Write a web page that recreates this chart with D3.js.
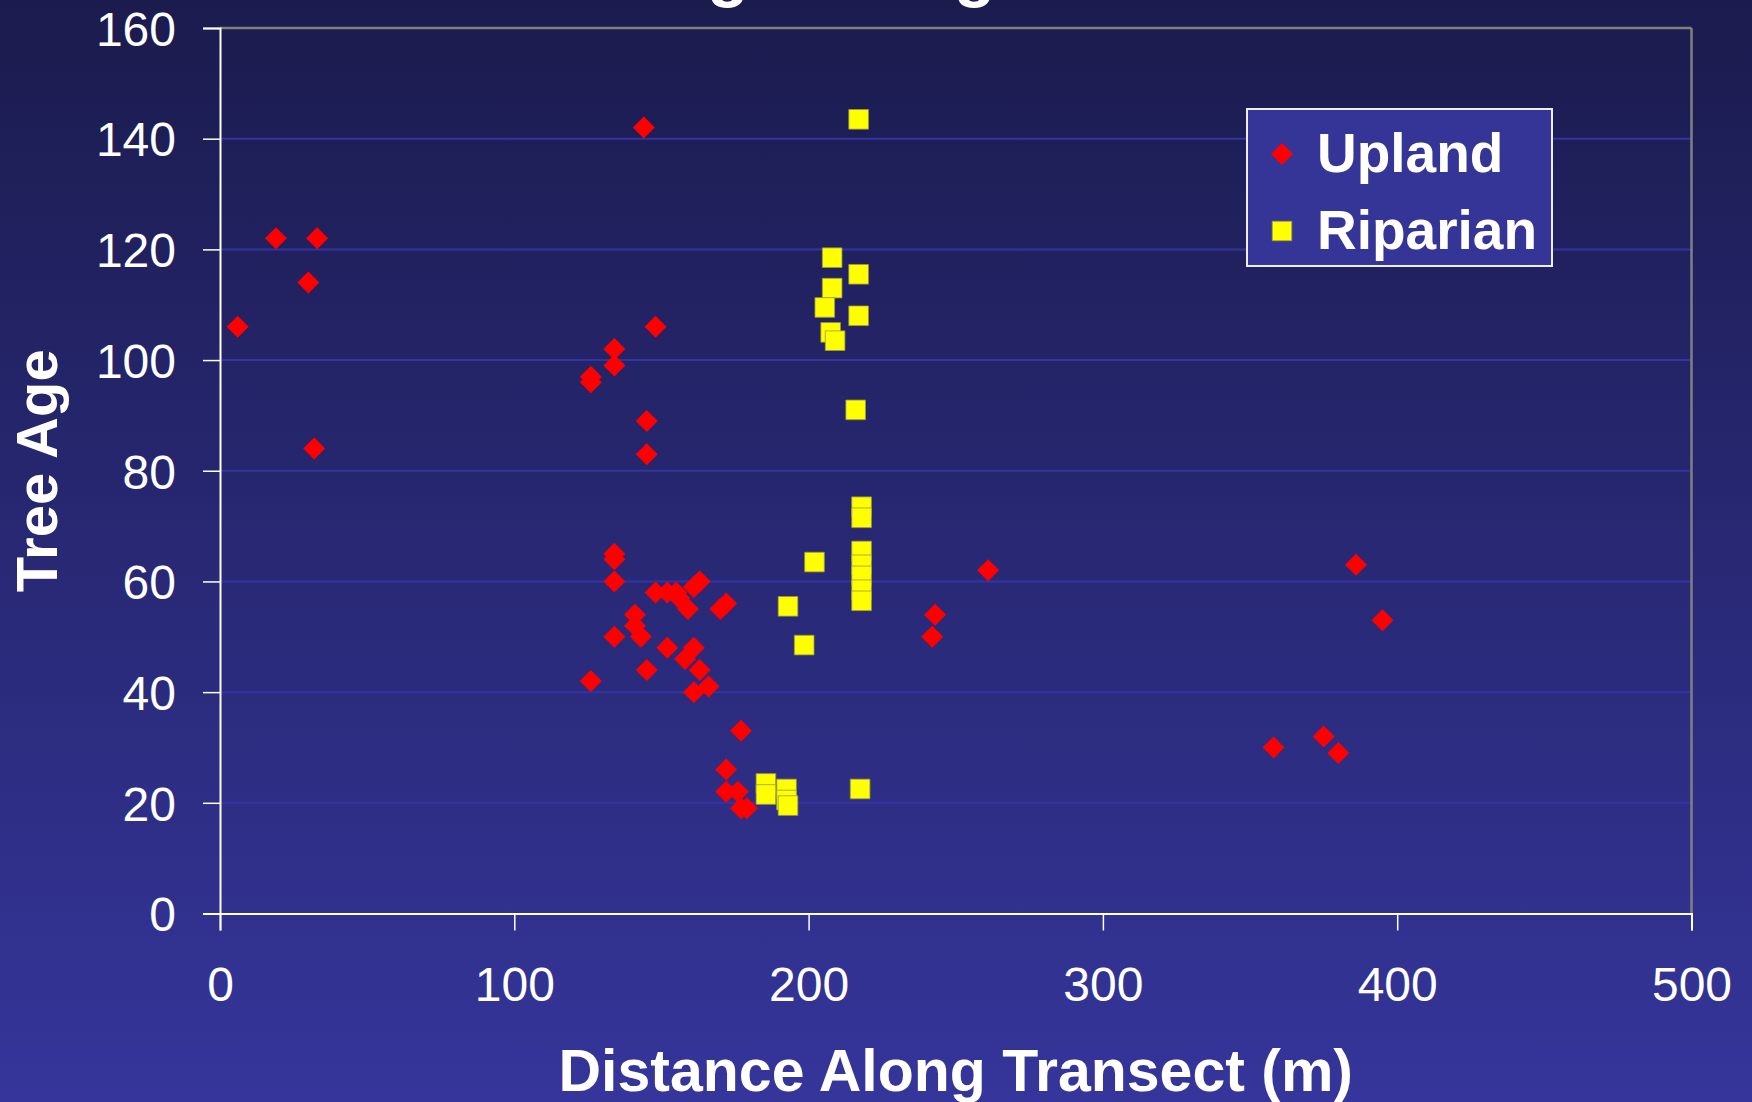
<!DOCTYPE html>
<html>
    <head>
	<meta charset="utf-8">
	<script src="https://cdn.jsdelivr.net/npm/d3@7"></script>
	<style>
	 body { margin:0; padding:0; overflow:hidden; }
	 text { font-family: "Liberation Sans", Arial, sans-serif; }
	</style>
    </head>
    <body>
	<script>
	 var width = 1752;
	 var height = 1102;

	 // upland trees (red diamonds), distance along transect in m and age
	 var upland_x = [6,19,33,30,32,144,126,126,134,134,148,145,145,
			 134,134,134,148,152,155,156,159,161,163,172,170,
			 141,141,143,134,152,161,158,163,145,166,161,126,
			 177,172,172,176,177,179,242,243,261,358,375,380,386,395];
	 var upland_age = [106,122,122,114,84,142,97,96,102,99,106,89,83,
			   65,64,60,58,58,58,57,55,59,60,56,55,
			   54,52,50,50,48,48,46,44,44,41,40,42,
			   33,26,22,22,19,19,50,54,62,30,32,29,63,53];

	 // riparian trees (yellow squares)
	 var riparian_x = [217,208,217,208,205.5,217,207.5,209,216,
			   218,218,218,218,218,218,218,202,193,198.5,
			   185.5,185.5,192.5,192.5,193,217.5];
	 var riparian_age = [143.5,118.5,115.5,113,109.5,108,105,103.5,91,
			     73.5,71.5,65.5,63,61,58.5,56.5,63.5,55.5,48.5,
			     23.5,21.5,22.5,20.5,19.5,22.5];

	 var x_ticks = [0,100,200,300,400,500];
	 var y_ticks = [0,20,40,60,80,100,120,140,160];

	 var title_text = 'Tree Age Along Transect';
	 var x_title = 'Distance Along Transect (m)';
	 var y_title = 'Tree Age';
	 var legend_labels = ['Upland','Riparian'];

	 var white = '#ffffff';
	 var red = '#ff0000';
	 var yellow = '#ffff00';
	 var grid_blue = '#3434a0';
	 var border_gray = '#808080';

	 var svg = d3.select('body').append('svg')
		     .attr('width', width)
		     .attr('height', height);

	 // slide style background, dark navy on top going lighter at the bottom
	 var grad = svg.append('defs').append('linearGradient')
		       .attr('id','bg')
		       .attr('x1','0').attr('y1','0')
		       .attr('x2','0').attr('y2','1');
	 grad.append('stop').attr('offset','0%').attr('stop-color','#1b1b4e');
	 grad.append('stop').attr('offset','100%').attr('stop-color','#35359b');

	 svg.append('rect')
	    .attr('width', width)
	    .attr('height', height)
	    .attr('fill','url(#bg)');

	 var x = d3.scaleLinear().domain([0,500]).range([220,1691.5]);
	 var y = d3.scaleLinear().domain([0,160]).range([913.5,28]);

	 // gridlines (the top one is the gray frame)
	 svg.append('g').selectAll('line')
	    .data(y_ticks.filter(function(d){ return d > 0 && d < 160; }))
	    .enter().append('line')
	    .attr('x1', x(0)).attr('x2', x(500))
	    .attr('y1', function(d){ return y(d); })
	    .attr('y2', function(d){ return y(d); })
	    .attr('stroke', grid_blue)
	    .attr('stroke-width', 2);

	 svg.append('line')
	    .attr('x1', x(0)).attr('x2', x(500))
	    .attr('y1', y(160)).attr('y2', y(160))
	    .attr('stroke', border_gray).attr('stroke-width', 2.5);
	 svg.append('line')
	    .attr('x1', x(500)).attr('x2', x(500))
	    .attr('y1', y(160)).attr('y2', y(0))
	    .attr('stroke', border_gray).attr('stroke-width', 2.5);

	 // axes
	 var yAxis = d3.axisLeft(y).tickValues(y_ticks).tickSize(17).tickPadding(27);
	 var xAxis = d3.axisBottom(x).tickValues(x_ticks).tickSize(17).tickPadding(36);

	 var gy = svg.append('g')
		     .attr('transform','translate(' + x(0) + ',0)')
		     .call(yAxis);
	 var gx = svg.append('g')
		     .attr('transform','translate(0,' + y(0) + ')')
		     .call(xAxis);

	 [gx, gy].forEach(function(g){
	     g.select('.domain').attr('stroke', white).attr('stroke-width', 2);
	     g.selectAll('.tick line').attr('stroke', white).attr('stroke-width', 1.5);
	     g.selectAll('.tick text')
	      .attr('fill', white)
	      .style('font-family','"Liberation Sans", Arial, sans-serif')
	      .style('font-size','48px');
	 });
	 gy.selectAll('.tick text').attr('dy','0.36em');
	 gx.selectAll('.tick text').attr('dy','0.71em');

	 // points
	 var diamond = d3.symbol().type(d3.symbolSquare).size(242);
	 var square = d3.symbol().type(d3.symbolSquare).size(385);

	 svg.append('g').selectAll('path')
	    .data(d3.range(upland_x.length))
	    .enter().append('path')
	    .attr('d', diamond)
	    .attr('transform', function(i){
		return 'translate(' + x(upland_x[i]) + ',' + y(upland_age[i]) + ') rotate(45)';
	    })
	    .attr('fill', red);

	 svg.append('g').selectAll('path')
	    .data(d3.range(riparian_x.length))
	    .enter().append('path')
	    .attr('d', square)
	    .attr('transform', function(i){
		return 'translate(' + x(riparian_x[i]) + ',' + y(riparian_age[i]) + ')';
	    })
	    .attr('fill', yellow)
	    .attr('stroke', '#9a9a40')
	    .attr('stroke-width', 0.8);

	 // titles
	 svg.append('text')
	    .text(title_text)
	    .attr('x', 898)
	    .attr('y', -6)
	    .attr('text-anchor','middle')
	    .attr('fill', white)
	    .style('font-size','68px')
	    .style('font-weight','bold');

	 svg.append('text')
	    .text(x_title)
	    .attr('x', (x(0) + x(500)) / 2)
	    .attr('y', 1091)
	    .attr('text-anchor','middle')
	    .attr('fill', white)
	    .style('font-size','59px')
	    .style('font-weight','bold');

	 svg.append('text')
	    .text(y_title)
	    .attr('transform','translate(57,' + (y(0) + y(160)) / 2 + ') rotate(-90)')
	    .attr('text-anchor','middle')
	    .attr('fill', white)
	    .style('font-size','58px')
	    .style('font-weight','bold');

	 // legend
	 var legend = svg.append('g');
	 legend.append('rect')
	       .attr('x', 1247).attr('y', 109)
	       .attr('width', 305).attr('height', 157)
	       .attr('fill', '#353597')
	       .attr('stroke', '#eeeef6')
	       .attr('stroke-width', 2);

	 var legend_rows = legend.selectAll('g.row')
				 .data(legend_labels)
				 .enter().append('g')
				 .attr('class','row')
				 .attr('transform', function(d,i){ return 'translate(1282,' + (154 + i*77) + ')'; });

	 legend_rows.append('path')
		    .attr('d', function(d,i){ return i == 0 ? diamond() : d3.symbol().type(d3.symbolSquare).size(380)(); })
		    .attr('transform', function(d,i){ return i == 0 ? 'rotate(45)' : ''; })
		    .attr('fill', function(d,i){ return i == 0 ? red : yellow; })
		    .attr('stroke', function(d,i){ return i == 0 ? 'none' : '#9a9a40'; })
		    .attr('stroke-width', 0.8);

	 legend_rows.append('text')
		    .text(function(d){ return d; })
		    .attr('x', 35)
		    .attr('y', 18)
		    .attr('fill', white)
		    .style('font-size','55px')
		    .style('font-weight','bold');
	</script>
    </body>
</html>
